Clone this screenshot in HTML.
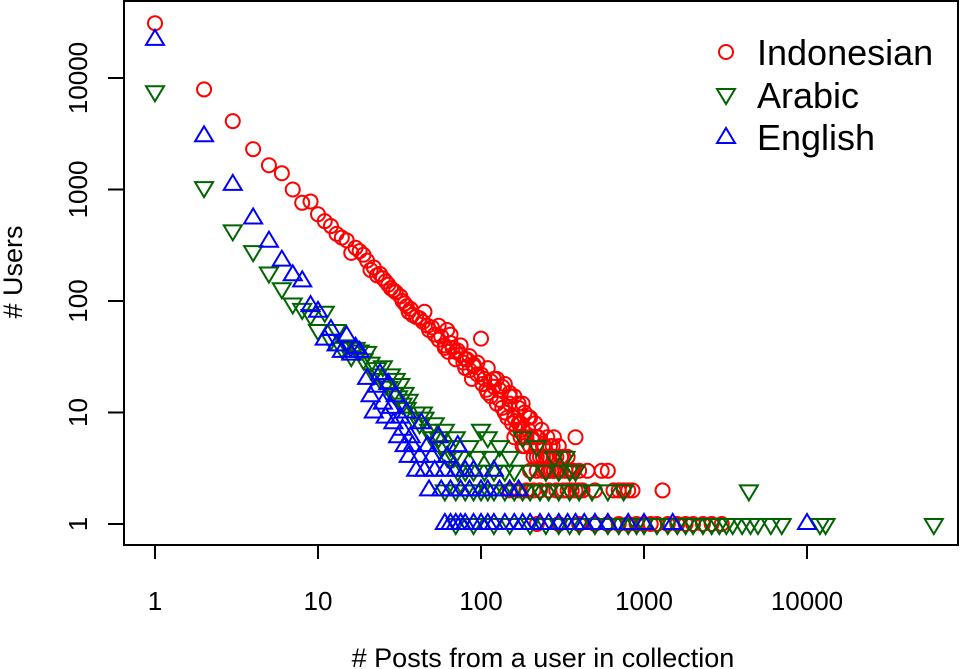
<!DOCTYPE html>
<html><head><meta charset="utf-8"><style>
html,body{margin:0;padding:0;background:#fff;}
svg{display:block;font-family:"Liberation Sans",Arial,sans-serif;}
</style></head><body>
<svg id="chart" width="963" height="669" viewBox="0 0 963 669">
<rect x="124" y="1" width="834" height="544" fill="none" stroke="#000" stroke-width="2"/>
<g id="axes"></g>
<g id="marks"></g>
<text transform="translate(22,272) rotate(-90)" text-anchor="middle" style="font-size:27px">#&#160;Users</text>
<text x="543" y="667" text-anchor="middle" style="font-size:27px"># Posts from a user in collection</text>
<g>
<circle cx="726" cy="52" r="7" fill="none" stroke="#f00" stroke-width="2"/>
<text x="757" y="65" style="font-size:36px">Indonesian</text>
<path d="M717,89 L735,89 L726,104 Z" fill="none" stroke="#006400" stroke-width="2"/>
<text x="757" y="108" style="font-size:36px">Arabic</text>
<path d="M717,143 L735,143 L726,128 Z" fill="none" stroke="#00f" stroke-width="2"/>
<text x="757" y="150" style="font-size:36px">English</text>
</g>
</svg>
<script>
const xTicks=[1,10,100,1000,10000];
const xTickLabels=["1","10","100","1000","10000"];
const yTicks=[1,10,100,1000,10000];
const yTickLabels=["1","10","100","1000","10000"];
const indoPosts=[1,2,3,4,5,6,7,8,9,10,11,12,13,14,15,16,17,18,19,20,21,22,23,24,25,26,27,28,29,30,32,33,34,35,36,37,38,40,42,44,45,47,48,50,52,55,57,60,62,63,65,67,70,72,75,78,80,82,85,88,90,95,100,102,105,108,110,115,120,125,130,135,140,145,150,155,160,165,170,175,180,185,190,200,210,220,230,240,250,260,270,280,300,320,350,380,400,420,450,500,550,600,650,700,750,800,850,1300,150,170,190,210,230,260,290,320,360,400,200,220,240,260,280,300,330,360,250,280,320,55,65,75,85,95,110,125,140,160,180,60,70,80,90,100,115,130,150,170,195,120,135,150,170,185,200,215,235,255,275,300,140,160,175,195,205,225,245,265,290,310,340,370,160,180,200,220,240,260,280,310,340,380,220,300,400,500,600,700,800,900,1000,1100,1200,1400,1600,1800,2000,2300,2600,3000];
const indoUsers=[31000,7900,4100,2300,1650,1400,1000,760,780,600,520,470,400,370,350,270,300,280,260,230,190,200,170,175,160,150,140,130,125,120,110,100,95,90,80,85,75,72,70,65,80,60,55,58,50,45,48,40,55,35,42,38,30,36,33,28,25,30,24,20,27,22,46,18,20,16,15,14,17,12,13,11,10,9,12,8,9,7,8,6,7,5,6,5,4,6,4,5,3,4,3,6,3,4,3,6,3,2,3,2,3,3,2,2,2,2,2,2,2,2,2,2,2,2,2,2,2,2,3,3,3,3,3,3,3,3,4,4,4,60,50,40,32,28,25,20,18,14,12,38,35,30,26,22,19,16,14,11,9,20,17,15,12,10,9,8,7,6,5,5,10,9,8,7,6,6,5,5,4,4,4,3,6,5,5,4,4,3,3,3,2,2,1,1,1,1,1,1,1,1,1,1,1,1,1,1,1,1,1,1];
const arabPosts=[1,2,3,4,5,6,7,8,9,10,11,12,13,14,15,16,17,18,19,20,21,22,23,24,25,26,27,28,29,30,31,32,33,34,35,36,38,40,42,44,45,48,50,52,55,58,60,62,65,68,70,72,75,80,85,90,95,100,105,110,115,120,130,140,150,160,180,200,220,250,280,300,330,350,380,60,70,80,90,100,110,120,140,160,180,200,230,260,300,350,400,480,600,750,4400,70,90,120,150,200,250,300,350,400,500,600,700,800,900,1000,1200,1400,1600,1800,2000,2300,2600,2900,3200,3500,4000,4500,5000,6000,7000,12000,13000,60000];
const arabUsers=[7600,1050,430,280,180,130,95,85,75,55,80,45,55,38,40,32,38,36,30,35,28,22,25,20,26,18,17,22,15,20,14,18,12,15,11,13,9,10,8,10,9,7,6,8,6,5,7,4,5,4,6,3,4,3,5,3,4,7,3,6,4,3,5,3,4,3,6,3,5,3,4,3,4,3,3,2,2,2,2,2,2,2,2,2,2,2,2,2,2,2,2,2,2,2,2,1,1,1,1,1,1,1,1,1,1,1,1,1,1,1,1,1,1,1,1,1,1,1,1,1,1,1,1,1,1,1,1,1];
const engPosts=[1,2,3,4,5,6,7,8,9,10,11,12,13,14,15,16,17,18,20,21,22,23,24,25,26,27,28,29,30,31,32,33,34,35,36,37,38,40,42,43,45,47,48,50,52,55,57,60,62,65,70,72,75,80,85,90,100,110,120,130,150,170,60,65,70,75,80,90,100,110,120,140,160,180,200,230,260,300,340,380,430,500,600,800,1000,1500,10000];
const engUsers=[22000,3000,1100,550,340,230,170,150,90,80,45,55,40,35,48,33,38,35,20,14,10,17,22,12,9,18,11,8,14,6,9,7,5,10,4,6,5,3,4,8,3,5,2,4,3,6,2,3,4,2,3,5,2,3,2,3,2,2,3,2,2,2,1,1,1,1,1,1,1,1,1,1,1,1,1,1,1,1,1,1,1,1,1,1,1,1,1];

const NS="http://www.w3.org/2000/svg";
function xs(v){return 155+163*Math.log10(v);}
function ys(v){return 524-111.5*Math.log10(v);}
const axes=document.getElementById('axes');
const marks=document.getElementById('marks');
function mk(tag,attrs,parent){const e=document.createElementNS(NS,tag);for(const k in attrs)e.setAttribute(k,attrs[k]);parent.appendChild(e);return e;}
xTicks.forEach((t,i)=>{
  const l=mk('line',{x1:xs(t),x2:xs(t),y1:545,y2:559,stroke:'#000','stroke-width':2},axes);
  
  
  const tx=mk('text',{x:xs(t),y:610,'text-anchor':'middle',style:'font-size:26px'},axes);
  tx.textContent=xTickLabels[i];
  
  
});
yTicks.forEach((t,i)=>{
  const l=mk('line',{x1:108,x2:124,y1:ys(t),y2:ys(t),stroke:'#000','stroke-width':2},axes);
  
  
  const tx=mk('text',{transform:'translate(87,'+ys(t)+') rotate(-90)','text-anchor':'middle',style:'font-size:26px'},axes);
  tx.textContent=yTickLabels[i];
  
  
});
indoPosts.forEach((p,i)=>{
  const c=mk('circle',{cx:xs(p),cy:ys(indoUsers[i]),r:7,fill:'none',stroke:'#f00','stroke-width':2},marks);
  
  
});
arabPosts.forEach((p,i)=>{
  const x=xs(p),y=ys(arabUsers[i]);
  const t=mk('path',{d:`M${x-9},${y-5} L${x+9},${y-5} L${x},${y+10} Z`,fill:'none',stroke:'#006400','stroke-width':2},marks);
  
  
});
engPosts.forEach((p,i)=>{
  const x=xs(p),y=ys(engUsers[i]);
  const t=mk('path',{d:`M${x-9},${y+5} L${x+9},${y+5} L${x},${y-10} Z`,fill:'none',stroke:'#00f','stroke-width':2},marks);
  
  
});
</script>
</body></html>
